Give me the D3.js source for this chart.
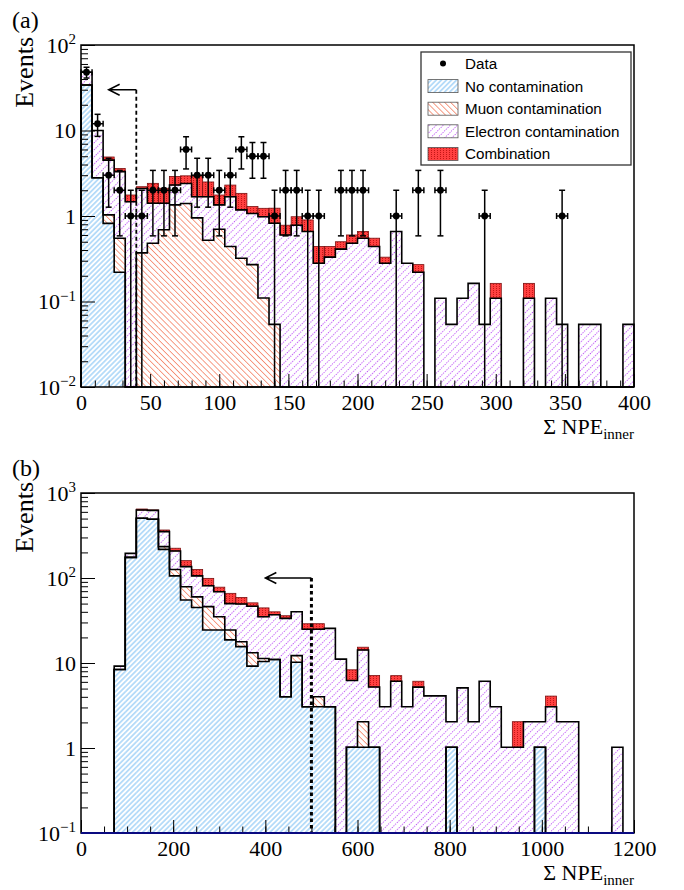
<!DOCTYPE html>
<html>
<head>
<meta charset="utf-8">
<script src="https://cdn.jsdelivr.net/npm/d3@7"></script>
<style>
  body { margin: 0; background: #fff; }
  svg { display: block; }
</style>
</head>
<body>
<div id="chart"></div>
<script>
// panel (a): 8 p.e. bins, 0-400
const binsA = d3.range(0, 400, 8);
const noContA = [34, 2.8, 0.82, 0.22, 0, 0, 0, 0, 0, 0,
  0, 0, 0, 0, 0, 0, 0, 0, 0, 0,
  0, 0, 0, 0, 0, 0, 0, 0, 0, 0,
  0, 0, 0, 0, 0, 0, 0, 0, 0, 0,
  0, 0, 0, 0, 0, 0, 0, 0, 0, 0];
const muonA = [0, 0, 0.21, 0.33, 0, 0.37, 0.48, 0.69, 1.35, 1.4,
  0.95, 0.52, 0.7, 0.44, 0.32, 0.27, 0.11, 0.054, 0, 0,
  0, 0, 0, 0, 0, 0, 0, 0, 0, 0,
  0, 0, 0, 0, 0, 0, 0, 0, 0, 0,
  0, 0, 0, 0, 0, 0, 0, 0, 0, 0];
const elecA = [14, 7.2, 3.47, 2.75, 1.47, 1.73, 0.93, 0.72, 0.95, 1.0,
  0.73, 1.16, 0.65, 1.24, 0.86, 0.8, 0.87, 0.77, 0.6, 0.78,
  0.66, 0.28, 0.33, 0.41, 0.48, 0.55, 0.44, 0.28, 0.66, 0.28,
  0.22, 0, 0.109, 0.054, 0.109, 0.163, 0.054, 0.109, 0, 0,
  0.109, 0, 0.109, 0.054, 0, 0.054, 0.054, 0, 0, 0.054];
const combA = [0, 0, 0.4, 0.3, 0.29, 0.1, 1.0, 0.7, 0.6, 0.55,
  1.27, 0.82, 0.41, 0.62, 0.66, 0.22, 0.25, 0.41, 0.18, 0.2,
  0.24, 0.16, 0.11, 0.09, 0.12, 0.11, 0.11, 0.05, 0, 0,
  0.05, 0, 0, 0, 0, 0, 0, 0.054, 0, 0,
  0.054, 0, 0, 0, 0, 0, 0, 0, 0, 0];
const dataA = [48, 12, 3, 2, 1, 1, 2, 2, 2, 6,
  3, 3, 2, 3, 6, 5, 5, 1, 2, 2,
  1, 1, 0, 2, 2, 2, 0, 0, 1, 0,
  2, 0, 2, 0, 0, 0, 1, 0, 0, 0,
  0, 0, 0, 1, 0, 0, 0, 0, 0, 0];

// panel (b): 24 p.e. bins, 0-1200
const binsB = d3.range(0, 1200, 24);
const noContB = [0, 0, 0, 8.4, 175, 504, 491, 217, 106, 55,
  45, 24.4, 24.4, 18.7, 15.6, 9.2, 10.4, 11, 4, 10.2,
  3.06, 3.06, 3.06, 0, 1.02, 1.02, 1.02, 0, 0, 0,
  0, 0, 0, 1.02, 0, 0, 0, 0, 0, 0,
  0, 1.02, 0, 0, 0, 0, 0, 0, 0, 0];
const muonB = [0, 0, 0, 0, 0, 0, 0, 17, 20, 24,
  15, 21.6, 10.6, 5.7, 2.2, 4, 0.9, 0, 0, 2,
  0, 0.94, 0, 0, 0, 1.02, 0, 0, 0, 0,
  0, 0, 0, 0, 0, 0, 0, 0, 0, 0,
  0, 0, 0, 0, 0, 0, 0, 0, 0, 0];
const elecB = [0, 0, 0, 0.8, 20, 126, 134, 117, 82, 57,
  46, 35, 34, 25.6, 31.7, 33.4, 23.7, 26, 29.5, 27.8,
  21.9, 21, 22.5, 11.1, 5.2, 12.2, 4.2, 3.06, 6.1, 3.06,
  5.2, 4.1, 4.1, 1.02, 5.1, 2.04, 6.1, 3.06, 1.02, 1.02,
  2.04, 1.02, 3.06, 2.04, 2.04, 0, 0, 0, 1.02, 0];
const combB = [0, 0, 0, 0, 0, 18, 7, 16, 16, 24,
  20, 18, 9, 16, 9.5, 4.4, 9.5, 3, 2.5, 0,
  4, 4, 0, 0, 2.1, 1.1, 1.9, 0, 1.0, 0,
  0.9, 0, 0, 0, 0, 0, 0, 0, 0, 1.02,
  0, 0, 1.02, 0, 0, 0, 0, 0, 0, 0];

const legendLabels = ['Data', 'No contamination', 'Muon contamination', 'Electron contamination', 'Combination'];
const layerKeys = ['noCont', 'muon', 'elec', 'comb'];

const W = 684, H = 890;
const serif = "'Liberation Serif', 'Times New Roman', serif";
const sans = "'Liberation Sans', Arial, sans-serif";

const svg = d3.select('#chart').append('svg')
  .attr('width', W)
  .attr('height', H);

// fill patterns, ROOT style hatches
const defs = svg.append('defs');
const hatch = (id, color, angle, gap, len, dash, sw) => {
  const p = defs.append('pattern')
    .attr('id', id)
    .attr('patternUnits', 'userSpaceOnUse')
    .attr('width', gap)
    .attr('height', len)
    .attr('patternTransform', 'rotate(' + angle + ')');
  p.append('line')
    .attr('x1', gap / 2).attr('y1', 0)
    .attr('x2', gap / 2).attr('y2', len)
    .attr('stroke', color)
    .attr('stroke-width', sw || 0.8)
    .attr('stroke-dasharray', dash || null);
};
hatch('noCont', '#58aef0', 45, 3.6, 3.6);
hatch('muon', '#f4866a', -45, 4.2, 4.2);
hatch('elec', '#bf55f7', 45, 5, 2.4, '1.2 1.2', 1);

const red = defs.append('pattern')
  .attr('id', 'comb')
  .attr('patternUnits', 'userSpaceOnUse')
  .attr('width', 3)
  .attr('height', 2);
red.append('rect').attr('width', 3).attr('height', 2).attr('fill', '#ff4040');
red.append('rect').attr('x', 1).attr('y', 0).attr('width', 1).attr('height', 1).attr('fill', '#c41616');

const fills = {noCont: 'url(#noCont)', muon: 'url(#muon)', elec: 'url(#elec)', comb: 'url(#comb)'};

const powLabel = (sel) => sel.each(function(d) {
  const e = Math.round(Math.log10(d));
  const t = d3.select(this).text(null);
  if (e === 0) { t.text('1'); return; }
  if (e === 1) { t.text('10'); return; }
  t.append('tspan').text('10');
  t.append('tspan')
    .attr('dy', '-0.55em')
    .attr('font-size', '0.68em')
    .text(e < 0 ? '\u2212' + (-e) : e);
});

const drawPanel = (cfg) => {
  const {top, bottom, left, right, xMax, binW, bins, yDom, xMajor, xMinor, layers, data, tag, eventsY, cut, cutY, arrowTo, cutStyle} = cfg;

  const x = d3.scaleLinear().domain([0, xMax]).range([left, right]);
  const y = d3.scaleLog().domain(yDom).range([bottom, top]);
  const yc = v => v > yDom[0] ? Math.max(y(v), top) : bottom;

  const rows = bins.map((b, i) => {
    const r = {bin: b};
    layerKeys.forEach(k => { r[k] = layers[k][i]; });
    return r;
  });
  const stacked = d3.stack().keys(layerKeys)(rows);

  const g = svg.append('g');

  // hatched bands
  stacked.forEach(s => {
    g.append('g')
      .selectAll('rect')
      .data(s.filter(d => d[1] > d[0]))
      .join('rect')
      .attr('x', d => x(d.data.bin))
      .attr('width', x(binW) - x(0))
      .attr('y', d => yc(d[1]))
      .attr('height', d => yc(d[0]) - yc(d[1]))
      .attr('fill', fills[s.key])
      .attr('stroke', s.key === 'comb' ? '#7a1010' : 'none')
      .attr('stroke-width', 0.8);
  });

  // step outlines of the cumulative histograms
  const stepPath = vals => {
    let d = 'M' + x(0) + ',' + bottom;
    vals.forEach((v, i) => {
      d += 'L' + x(bins[i]) + ',' + yc(v) + 'L' + x(bins[i] + binW) + ',' + yc(v);
    });
    return d + 'L' + x(xMax) + ',' + bottom;
  };
  stacked.slice(0, 3).reverse().forEach(s => {
    g.append('path')
      .attr('d', stepPath(s.map(d => d[1])))
      .attr('fill', 'none')
      .attr('stroke', '#000')
      .attr('stroke-width', 1.6)
      .attr('stroke-linejoin', 'miter');
  });

  // data points with sqrt(N) errors
  if (data) {
    const pts = bins.map((b, i) => ({c: b + binW / 2, n: data[i]})).filter(d => d.n > 0);
    const dg = g.append('g').attr('stroke', '#000').attr('stroke-width', 1.5);
    pts.forEach(p => {
      const e = Math.sqrt(p.n);
      const yTop = yc(p.n + e), yBot = yc(p.n - e), yMid = y(p.n);
      dg.append('line').attr('x1', x(p.c)).attr('x2', x(p.c)).attr('y1', yTop).attr('y2', yBot);
      dg.append('line').attr('x1', x(p.c) - 3).attr('x2', x(p.c) + 3).attr('y1', yTop).attr('y2', yTop);
      if (yBot < bottom) dg.append('line').attr('x1', x(p.c) - 3).attr('x2', x(p.c) + 3).attr('y1', yBot).attr('y2', yBot);
      dg.append('line').attr('x1', x(p.c - binW / 2)).attr('x2', x(p.c + binW / 2)).attr('y1', yMid).attr('y2', yMid);
      dg.append('line').attr('x1', x(p.c - binW / 2)).attr('x2', x(p.c - binW / 2)).attr('y1', yMid - 3).attr('y2', yMid + 3);
      dg.append('line').attr('x1', x(p.c + binW / 2)).attr('x2', x(p.c + binW / 2)).attr('y1', yMid - 3).attr('y2', yMid + 3);
    });
    g.append('g')
      .selectAll('circle')
      .data(pts)
      .join('circle')
      .attr('cx', d => x(d.c))
      .attr('cy', d => y(d.n))
      .attr('r', 3.4)
      .attr('fill', '#000');
  }

  // cut line and arrow
  g.append('line')
    .attr('x1', x(cut)).attr('x2', x(cut))
    .attr('y1', y(cutY)).attr('y2', bottom)
    .attr('stroke', '#000')
    .attr('stroke-width', cutStyle.w)
    .attr('stroke-dasharray', cutStyle.dash);
  const ay = y(cutY);
  g.append('path')
    .attr('d', 'M' + x(cut) + ',' + ay + 'L' + x(arrowTo) + ',' + ay +
      'M' + (x(arrowTo) + 11) + ',' + (ay - 5.5) + 'L' + x(arrowTo) + ',' + ay + 'L' + (x(arrowTo) + 11) + ',' + (ay + 5.5))
    .attr('fill', 'none')
    .attr('stroke', '#000')
    .attr('stroke-width', 1.5);

  // axes, ROOT style ticks pointing inside
  const axisFont = g => g.attr('font-family', serif).attr('font-size', 22).call(s => s.select('.domain').remove());
  g.append('g')
    .attr('transform', 'translate(0,' + bottom + ')')
    .call(d3.axisBottom(x).tickValues(xMinor).tickSize(-6.5).tickFormat(''))
    .call(axisFont);
  g.append('g')
    .attr('transform', 'translate(0,' + bottom + ')')
    .call(d3.axisBottom(x).tickValues(xMajor).tickSize(-13).tickPadding(7).tickFormat(d3.format('d')))
    .call(axisFont)
    .selectAll('text').attr('fill', '#000');

  const yMajor = d3.range(Math.log10(yDom[0]), Math.log10(yDom[1]) + 1).map(e => Math.pow(10, e));
  const yMinor = [];
  yMajor.slice(0, -1).forEach(m => d3.range(2, 10).forEach(k => yMinor.push(m * k)));
  g.append('g')
    .attr('transform', 'translate(' + left + ',0)')
    .call(d3.axisLeft(y).tickValues(yMinor).tickSize(-7).tickFormat(''))
    .call(axisFont);
  g.append('g')
    .attr('transform', 'translate(' + left + ',0)')
    .call(d3.axisLeft(y).tickValues(yMajor).tickSize(-14).tickPadding(5))
    .call(axisFont)
    .selectAll('text').attr('fill', '#000').call(powLabel);
  g.selectAll('.tick line').attr('stroke', '#000');

  // frame
  g.append('rect')
    .attr('x', left).attr('y', top)
    .attr('width', right - left).attr('height', bottom - top)
    .attr('fill', 'none')
    .attr('stroke', '#000')
    .attr('stroke-width', 1.5);
  if (cfg.bottomColor) {
    g.append('line')
      .attr('x1', left).attr('x2', right)
      .attr('y1', bottom).attr('y2', bottom)
      .attr('stroke', cfg.bottomColor)
      .attr('stroke-width', 2.2);
  }

  // titles
  const xt = g.append('text')
    .attr('x', right).attr('y', bottom + 47)
    .attr('text-anchor', 'end')
    .attr('font-family', serif)
    .attr('font-size', 22);
  xt.append('tspan').text('\u03A3 NPE');
  xt.append('tspan').attr('dy', '0.3em').attr('font-size', 15).text('inner');

  g.append('text')
    .attr('transform', 'translate(33,' + eventsY + ') rotate(-90)')
    .attr('text-anchor', 'end')
    .attr('font-family', serif)
    .attr('font-size', 26)
    .text('Events');

  g.append('text')
    .attr('x', 12).attr('y', top - 17)
    .attr('font-family', serif)
    .attr('font-size', 24)
    .text(tag);

  return {g, x, y};
};

drawPanel({
  top: 45, bottom: 387, left: 81, right: 634,
  xMax: 400, binW: 8, bins: binsA, yDom: [0.01, 100],
  xMajor: d3.range(0, 401, 50), xMinor: d3.range(0, 401, 10),
  layers: {noCont: noContA, muon: muonA, elec: elecA, comb: combA},
  data: dataA, tag: '(a)', eventsY: 37,
  cut: 40, cutY: 30, arrowTo: 20, cutStyle: {w: 1.8, dash: '4 3'}
});

drawPanel({
  top: 493, bottom: 833, left: 81, right: 634,
  xMax: 1200, binW: 24, bins: binsB, yDom: [0.1, 1000],
  xMajor: d3.range(0, 1201, 200), xMinor: d3.range(0, 1201, 50),
  layers: {noCont: noContB, muon: muonB, elec: elecB, comb: combB},
  data: null, tag: '(b)', eventsY: 482,
  cut: 500, cutY: 100, arrowTo: 400, cutStyle: {w: 3, dash: '3.5 3'},
  bottomColor: '#0a0a80'
});

// legend of panel (a)
const lg = svg.append('g').attr('transform', 'translate(421,52)');
lg.append('rect')
  .attr('width', 210).attr('height', 113)
  .attr('fill', '#fff')
  .attr('stroke', '#333')
  .attr('stroke-width', 1.3);
const rowY = i => 11.5 + i * 22.6;
lg.selectAll('text.lab')
  .data(legendLabels)
  .join('text')
  .attr('class', 'lab')
  .attr('x', 44)
  .attr('y', (d, i) => rowY(i))
  .attr('dy', '0.36em')
  .attr('font-family', sans)
  .attr('font-size', 15.2)
  .text(d => d);
lg.append('circle').attr('cx', 22).attr('cy', rowY(0)).attr('r', 3).attr('fill', '#000');
lg.selectAll('rect.sw')
  .data(layerKeys)
  .join('rect')
  .attr('class', 'sw')
  .attr('x', 7)
  .attr('y', (d, i) => rowY(i + 1) - 6.5)
  .attr('width', 30)
  .attr('height', 13)
  .attr('fill', d => fills[d])
  .attr('stroke', '#555')
  .attr('stroke-width', 0.8);
</script>
</body>
</html>
